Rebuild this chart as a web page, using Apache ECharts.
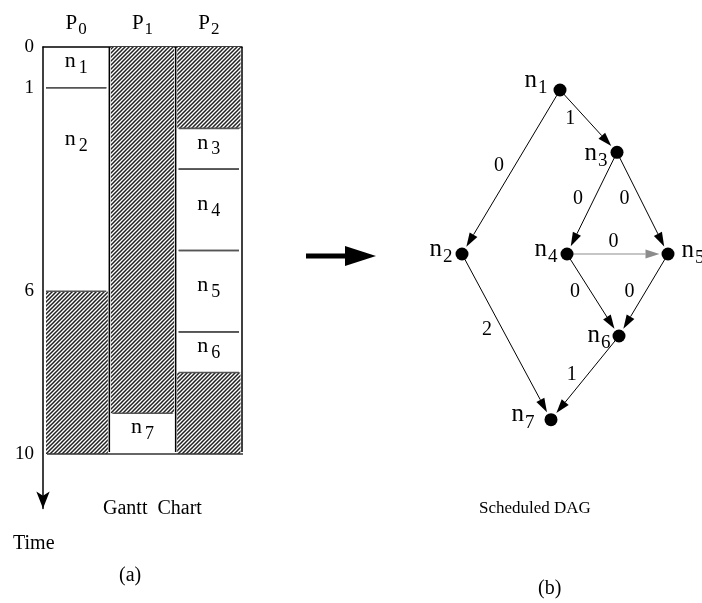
<!DOCTYPE html>
<html>
<head>
<meta charset="utf-8">
<script src="https://cdn.jsdelivr.net/npm/echarts@6/dist/echarts.min.js"></script>
<style>
  html, body { margin: 0; padding: 0; background: #fff; }
  #chart { width: 702px; height: 603px; }
</style>
</head>
<body>
<div id="chart"></div>
<script>
// ---- Gantt chart data (time units) ----
const processors = ['P0', 'P1', 'P2'];
const timeTicks = [0, 1, 6, 10];
const horizon = 10;

const taskNames = ['n1', 'n2', 'n3', 'n4', 'n5', 'n6', 'n7'];
const taskProc  = [0, 0, 2, 2, 2, 2, 1];
const taskStart = [0, 1, 2, 3, 5, 7, 9];
const taskEnd   = [1, 6, 3, 5, 7, 8, 10];

// idle (hatched) intervals
const idleProc  = [0, 1, 2, 2];
const idleStart = [6, 0, 0, 8];
const idleEnd   = [10, 9, 2, 10];

// ---- Scheduled DAG ----
const nodeNames = ['n1', 'n2', 'n3', 'n4', 'n5', 'n6', 'n7'];
const nodeCol   = [-0.14, -2.1, 1, 0, 2.02, 1.04, -0.32];
const nodeLevel = [0, 2, 0.76, 2, 2, 3, 4.02];

const edgeFrom = [0, 0, 2, 2, 3, 3, 4, 1, 5];
const edgeTo   = [1, 2, 3, 4, 4, 5, 5, 6, 6];
const edgeCost = [0, 1, 0, 0, 0, 0, 0, 2, 1];
const edgeAdded = [0, 0, 0, 0, 1, 0, 0, 0, 0]; // edge introduced by the schedule

const FONT = '"Liberation Serif", "DejaVu Serif", serif';
const NODE_R = 6.5;

function subRich(main, sub, drop, gap) {
  return {
    n: { fontSize: main, fontFamily: FONT, color: '#000', fill: '#000' },
    s: { fontSize: sub, fontFamily: FONT, color: '#000', fill: '#000', padding: [drop, 0, 0, gap] }
  };
}
const headRich = subRich(21, 17, 12, 1);
const ganttRich = subRich(22, 18, 14, 3);
const dagRich = subRich(25, 19, 16, 1);

const nodeLabelPlacement = {
  n1: { position: 'left', distance: 6, offset: [0, -10] },
  n2: { position: 'left', distance: 3, offset: [0, -5] },
  n3: { position: 'left', distance: 3, offset: [0, 1] },
  n4: { position: 'left', distance: 3, offset: [0, -5] },
  n5: { position: 'right', distance: 7, offset: [0, -4] },
  n6: { position: 'left', distance: 2, offset: [0, -1] },
  n7: { position: 'left', distance: 10, offset: [0, -5] }
};

function makeHatch() {
  const s = 4;
  const c = document.createElement('canvas');
  c.width = s; c.height = s;
  const g = c.getContext('2d');
  g.fillStyle = '#fff';
  g.fillRect(0, 0, s, s);
  g.strokeStyle = '#222';
  g.lineWidth = 1.5;
  g.beginPath();
  [[-1, s + 1, s + 1, -1], [-1, 1, 1, -1], [s - 1, s + 1, s + 1, s - 1]].forEach(function (l) {
    g.moveTo(l[0], l[1]); g.lineTo(l[2], l[3]);
  });
  g.stroke();
  return c;
}
const hatchFill = { image: makeHatch(), repeat: 'repeat' };

const chart = echarts.init(document.getElementById('chart'), null, { renderer: 'canvas' });

const idleData = idleProc.map((p, i) => [p, idleStart[i], idleEnd[i]]);
const taskData = taskNames.map((n, i) => [taskProc[i], taskStart[i], taskEnd[i], i]);
const edgeData = edgeFrom.map((f, i) => [nodeCol[f], nodeLevel[f], nodeCol[edgeTo[i]], nodeLevel[edgeTo[i]], edgeCost[i], edgeAdded[i]]);
const nodeData = nodeNames.map((n, i) => ({
  name: n,
  value: [nodeCol[i], nodeLevel[i]],
  label: nodeLabelPlacement[n]
}));

const option = {
  backgroundColor: '#fff',
  animation: false,
  grid: [
    { left: 43, top: 47, width: 199, height: 461.5 },
    { left: 417, top: 90, width: 285, height: 410 }
  ],
  xAxis: [
    {
      gridIndex: 0, type: 'category', data: processors, position: 'top', boundaryGap: true,
      axisLine: { show: true, lineStyle: { color: '#000', width: 1.5 } },
      axisTick: { show: false }, splitLine: { show: false },
      axisLabel: {
        margin: 9,
        formatter: v => '{n|' + v[0] + '}{s|' + v.slice(1) + '}',
        rich: headRich
      }
    },
    { gridIndex: 1, type: 'value', min: -3, max: 2.7, show: false }
  ],
  yAxis: [
    {
      gridIndex: 0, type: 'value', inverse: true, min: 0, max: 11.34, interval: 1,
      axisLine: {
        show: true, lineStyle: { color: '#000', width: 1.5 },
        symbol: ['arrow', 'none'], symbolSize: [10, 17]
      },
      axisTick: { show: false }, splitLine: { show: false },
      axisLabel: {
        margin: 9, color: '#000', fontSize: 19, fontFamily: FONT, padding: [6, 0, 0, 0],
        formatter: v => (timeTicks.indexOf(v) >= 0 ? String(v) : '')
      }
    },
    { gridIndex: 1, type: 'value', inverse: true, min: 0, max: 5, show: false }
  ],
  graphic: [
    { type: 'text', left: 103, top: 499, style: { text: 'Gantt  Chart', font: '20px ' + FONT, fill: '#000' } },
    { type: 'text', left: 13, top: 534, style: { text: 'Time', font: '20px ' + FONT, fill: '#000' } },
    { type: 'text', left: 119, top: 566, style: { text: '(a)', font: '20px ' + FONT, fill: '#000' } },
    { type: 'text', left: 479, top: 500, style: { text: 'Scheduled DAG', font: '17px ' + FONT, fill: '#000' } },
    { type: 'text', left: 538, top: 579, style: { text: '(b)', font: '20px ' + FONT, fill: '#000' } },
    {
      type: 'group', left: 306, top: 246,
      children: [
        { type: 'rect', shape: { x: 0, y: 7.5, width: 41, height: 5 }, style: { fill: '#000' } },
        { type: 'polygon', shape: { points: [[39, 0], [70, 10], [39, 20]] }, style: { fill: '#000' } }
      ]
    }
  ],
  series: [
    {
      // idle processor time
      type: 'custom', xAxisIndex: 0, yAxisIndex: 0, data: idleData,
      encode: { x: 0, y: [1, 2] },
      renderItem(params, api) {
        const p = api.value(0);
        const a = api.coord([p, api.value(1)]);
        const b = api.coord([p, api.value(2)]);
        const half = api.size([1, 0])[0] / 2;
        const inset = p === 0 ? 3 : 1.5;
        return {
          type: 'rect',
          shape: { x: a[0] - half + inset, y: a[1], width: 2 * half - inset - 1.5, height: b[1] - a[1] },
          style: { fill: hatchFill }
        };
      }
    },
    {
      // scheduled tasks
      type: 'custom', xAxisIndex: 0, yAxisIndex: 0, data: taskData,
      encode: { x: 0, y: [1, 2] },
      renderItem(params, api) {
        const p = api.value(0), s = api.value(1), e = api.value(2);
        const name = taskNames[api.value(3)];
        const a = api.coord([p, s]);
        const b = api.coord([p, e]);
        const half = api.size([1, 0])[0] / 2;
        const x0 = a[0] - half + 3, x1 = a[0] + half - 3;
        const children = [];
        const sep = y => ({ type: 'line', shape: { x1: x0, y1: y, x2: x1, y2: y }, style: { stroke: '#555', lineWidth: 1.6 } });
        if (s > 0) children.push(sep(a[1]));
        if (e < horizon) children.push(sep(b[1]));
        const h = b[1] - a[1];
        children.push({
          type: 'text', x: a[0], y: a[1] + Math.min(h / 2, 58) - 6,
          style: { text: '{n|n}{s|' + name.slice(1) + '}', rich: ganttRich, fill: '#000', align: 'center', verticalAlign: 'middle' }
        });
        return { type: 'group', children };
      }
    },
    {
      // processor column borders and the time-horizon line
      type: 'custom', xAxisIndex: 0, yAxisIndex: 0, data: [[0, 0, horizon]],
      encode: { x: 0, y: [1, 2] },
      renderItem(params, api) {
        const top = api.coord([0, api.value(1)]);
        const bot = api.coord([0, api.value(2)]);
        const half = api.size([1, 0])[0] / 2;
        const children = [];
        processors.forEach((_, k) => {
          const x = api.coord([k, 0])[0] + half;
          children.push({ type: 'line', shape: { x1: x, y1: top[1], x2: x, y2: bot[1] - 2 }, style: { stroke: '#000', lineWidth: 1.5 } });
        });
        const xr = api.coord([processors.length - 1, 0])[0] + half;
        children.push({ type: 'line', shape: { x1: top[0] - half + 4, y1: bot[1], x2: xr + 1, y2: bot[1] }, style: { stroke: '#333', lineWidth: 1.6 } });
        return { type: 'group', children };
      }
    },
    {
      // DAG edges with communication costs
      type: 'custom', xAxisIndex: 1, yAxisIndex: 1, data: edgeData,
      encode: { x: [0, 2], y: [1, 3] },
      renderItem(params, api) {
        const p1 = api.coord([api.value(0), api.value(1)]);
        const p2 = api.coord([api.value(2), api.value(3)]);
        const dx = p2[0] - p1[0], dy = p2[1] - p1[1];
        const L = Math.hypot(dx, dy);
        const ux = dx / L, uy = dy / L;
        const tip = [p2[0] - ux * (NODE_R + 2), p2[1] - uy * (NODE_R + 2)];
        const base = [tip[0] - ux * 14, tip[1] - uy * 14];
        const w = 4.5;
        const color = api.value(5) ? '#8c8c8c' : '#000';
        const t = 0.46;
        let lx = p1[0] + dx * t, ly = p1[1] + dy * t;
        if (Math.abs(dy) < 0.2 * L) ly -= 12; else lx -= 16;
        return {
          type: 'group',
          children: [
            { type: 'line', shape: { x1: p1[0], y1: p1[1], x2: base[0], y2: base[1] }, style: { stroke: color, lineWidth: 1 } },
            { type: 'polygon', shape: { points: [tip, [base[0] - uy * w, base[1] + ux * w], [base[0] + uy * w, base[1] - ux * w]] }, style: { fill: color } },
            { type: 'text', x: lx, y: ly, style: { text: String(api.value(4)), font: '20px ' + FONT, fill: '#000', align: 'center', verticalAlign: 'middle' } }
          ]
        };
      }
    },
    {
      // DAG nodes
      type: 'scatter', xAxisIndex: 1, yAxisIndex: 1, data: nodeData,
      symbol: 'circle', symbolSize: 2 * NODE_R,
      itemStyle: { color: '#000', opacity: 1 },
      label: {
        show: true, color: '#000',
        formatter: p => '{n|n}{s|' + p.name.slice(1) + '}',
        rich: dagRich
      },
      emphasis: { disabled: true }
    }
  ]
};

chart.setOption(option);
</script>
</body>
</html>
